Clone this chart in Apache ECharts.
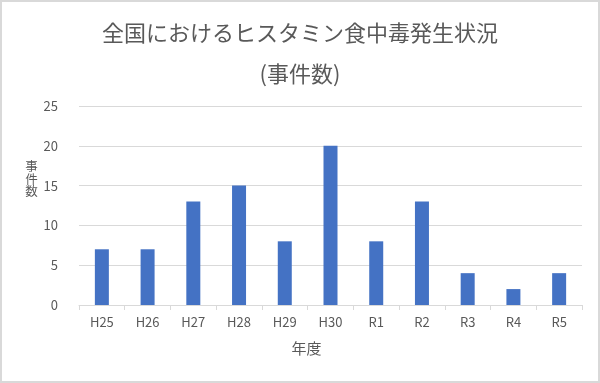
<!DOCTYPE html>
<html>
<head>
<meta charset="utf-8">
<script src="https://cdn.jsdelivr.net/npm/echarts@6/dist/echarts.min.js"></script>
<style>
html,body{margin:0;padding:0;background:#fff;}
#chart{width:600px;height:383px;}
</style>
</head>
<body>
<div id="chart"></div>
<script>
const categories = ['H25','H26','H27','H28','H29','H30','R1','R2','R3','R4','R5'];
const incidents = [7, 7, 13, 15, 8, 20, 8, 13, 4, 2, 4];
const titleText = '全国におけるヒスタミン食中毒発生状況\n(事件数)';
const yAxisName = '{c|事}\n{c|件}\n{c|数}\n{s| }';
const xAxisName = '年度';

const FONT = '"Noto Sans CJK JP", "Noto Sans", sans-serif';
const chart = echarts.init(document.getElementById('chart'), null, {renderer:'canvas'});
chart.setOption({
  animation: false,
  backgroundColor: '#ffffff',
  textStyle: {fontFamily: FONT},
  title: {
    text: titleText,
    left: 'center',
    top: 12,
    padding: 0,
    textStyle: {fontFamily: FONT, fontSize: 22, fontWeight: 'normal', color: '#595959', lineHeight: 41}
  },
  graphic: [{
    type: 'rect', silent: true, z: 100,
    shape: {x: 1, y: 1, width: 598, height: 381},
    style: {fill: 'none', stroke: '#d9d9d9', lineWidth: 2}
  }],
  grid: {left: 79, right: 18, top: 106, bottom: 78, containLabel: false},
  xAxis: {
    type: 'category',
    data: categories,
    name: xAxisName,
    nameLocation: 'middle',
    nameGap: 36,
    nameTextStyle: {fontFamily: FONT, fontSize: 15, color: '#595959', padding: [0, 48, 0, 0]},
    axisLine: {lineStyle: {color: '#d9d9d9', width: 1}},
    axisTick: {show: true, alignWithLabel: false, length: 5, lineStyle: {color: '#d9d9d9'}},
    axisLabel: {fontFamily: FONT, fontSize: 13, color: '#595959', margin: 11}
  },
  yAxis: {
    type: 'value',
    min: 0, max: 25, interval: 5,
    name: yAxisName,
    nameLocation: 'middle',
    nameRotate: 0,
    nameGap: 40,
    nameTextStyle: {
      fontFamily: FONT, fontSize: 12.5, color: '#595959', verticalAlign: 'bottom', align: 'center',
      rich: {
        c: {fontFamily: FONT, fontSize: 12.5, color: '#595959', lineHeight: 12.5},
        s: {fontSize: 1, lineHeight: 8}
      }
    },
    axisLine: {show: false},
    axisTick: {show: false},
    splitLine: {lineStyle: {color: '#d9d9d9', width: 1}},
    axisLabel: {fontFamily: FONT, fontSize: 13, color: '#595959', margin: 21}
  },
  series: [{
    type: 'bar',
    data: incidents,
    barWidth: 14,
    itemStyle: {color: '#4472C4'}
  }]
});
</script>
</body>
</html>
